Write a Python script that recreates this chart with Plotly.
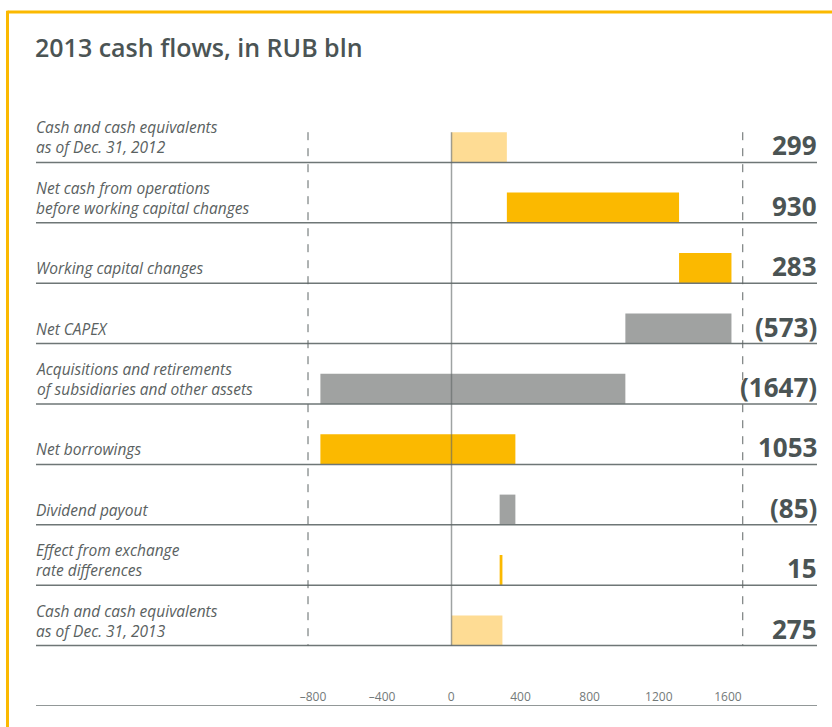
import plotly.graph_objects as go

# Cash flow items (top to bottom), RUB bln
labels = [
    "Cash and cash equivalents<br>as of Dec. 31, 2012",
    "Net cash from operations<br>before working capital changes",
    "Working capital changes",
    "Net CAPEX",
    "Acquisitions and retirements<br>of subsidiaries and other assets",
    "Net borrowings",
    "Dividend payout",
    "Effect from exchange<br>rate differences",
    "Cash and cash equivalents<br>as of Dec. 31, 2013",
]
values = [299, 930, 283, -573, -1647, 1053, -85, 15, 275]
measures = ["absolute", "relative", "relative", "relative", "relative",
            "relative", "relative", "relative", "total"]
tick_vals = [-800, -400, 0, 400, 800, 1200, 1600]
tick_text = ["–800", "–400", "0", "400", "800", "1200", "1600"]

FONT = "Open Sans"
DARK = "#4b5454"
YELLOW = "#FBB900"
LIGHT = "#FEDC94"
GREY = "#A0A2A1"
RULE = "#6e7676"


def fmt(v):
    return f"({abs(v)})" if v < 0 else f"{v}"


n = len(values)
# each row is one unit tall; bars sit on the lower half of their row
bar_pos = [i + 0.75 for i in range(n)]

fig = go.Figure()
fig.add_trace(go.Waterfall(
    orientation="h",
    y=bar_pos,
    x=values,
    measure=measures,
    width=0.5,
    connector=dict(visible=False),
    increasing=dict(marker=dict(color=YELLOW)),
    decreasing=dict(marker=dict(color=GREY)),
    totals=dict(marker=dict(color=LIGHT)),
    hoverinfo="skip",
    showlegend=False,
))

# carrier for the tick-label axis
x2_range = [-2402, 2115]
fig.add_trace(go.Scatter(
    x=x2_range, y=[n + 1, n + 1], xaxis="x2", mode="markers",
    marker=dict(opacity=0), hoverinfo="skip", showlegend=False,
))

shapes = []
# horizontal rules under each row (plus the axis row)
for k in range(1, n + 2):
    shapes.append(dict(type="line", xref="paper", yref="y", x0=0, x1=1,
                       y0=k, y1=k, line=dict(color=RULE, width=1.5)))
# dashed bounds
for xv in (-775, 1573):
    shapes.append(dict(type="line", xref="x", yref="y", x0=xv, x1=xv,
                       y0=0.5, y1=n, line=dict(color="#5f6666", width=1, dash="8px,8px")))
# zero line over the bars
shapes.append(dict(type="line", xref="x", yref="y", x0=0, x1=0, y0=0.5, y1=n,
                   layer="above", line=dict(color="rgba(95,102,102,0.6)", width=1.5)))
# yellow frame (top and left)
shapes.append(dict(type="line", xref="paper", yref="paper", x0=-0.0365, x1=1.03,
                   y0=1.149, y1=1.149, line=dict(color=YELLOW, width=3)))
shapes.append(dict(type="line", xref="paper", yref="paper", x0=-0.0365, x1=-0.0365,
                   y0=1.151, y1=-0.04, line=dict(color=YELLOW, width=3)))

annotations = [dict(
    text="2013 cash flows, in RUB bln", xref="paper", yref="paper",
    x=0, y=1.091, xanchor="left", yanchor="middle", xshift=-3, showarrow=False,
    font=dict(family=FONT, size=25, color=DARK, weight=600),
)]
label_font = dict(family=FONT, size=15.5, color="#5a6161", style="italic")
for i, (lab, v) in enumerate(zip(labels, values)):
    annotations.append(dict(
        text=lab, xref="paper", yref="y", x=0, y=i + 1, xanchor="left",
        yanchor="bottom", xshift=-2, yshift=2, showarrow=False, align="left",
        font=label_font,
    ))
    annotations.append(dict(
        text=fmt(v), xref="paper", yref="y", x=1, y=i + 1, xanchor="right",
        yanchor="bottom", xshift=2, yshift=-3, showarrow=False,
        font=dict(family=FONT, size=26, color=DARK, weight=700),
    ))

fig.update_layout(
    width=832, height=727,
    margin=dict(l=36, r=15, t=102, b=21),
    paper_bgcolor="white", plot_bgcolor="white",
    xaxis=dict(range=[-2244, 1974], visible=False, fixedrange=True),
    xaxis2=dict(
        overlaying="x", side="bottom", range=x2_range,
        tickvals=tick_vals, ticktext=tick_text, ticks="",
        ticklabelposition="inside", showgrid=False, zeroline=False,
        showline=False, tickfont=dict(family=FONT, size=12, color="#737979"),
    ),
    yaxis=dict(range=[n + 1, 0], visible=False, fixedrange=True),
    shapes=shapes,
    annotations=annotations,
    showlegend=False,
)

fig.write_html("out.html")
